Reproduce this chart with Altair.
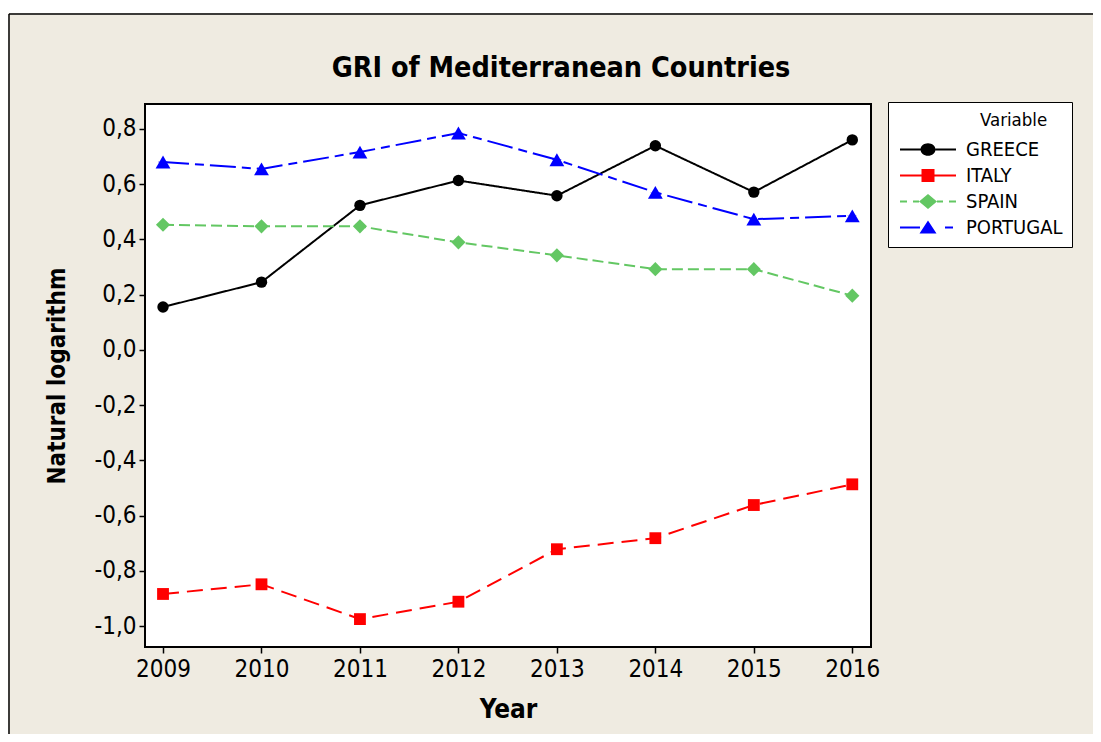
import altair as alt
import pandas as pd

# ---- data ----
years = [2009, 2010, 2011, 2012, 2013, 2014, 2015, 2016]
countries = ["GREECE", "ITALY", "SPAIN", "PORTUGAL"]
greece = [0.155, 0.245, 0.523, 0.613, 0.558, 0.739, 0.571, 0.760]
italy = [-0.884, -0.849, -0.975, -0.912, -0.722, -0.682, -0.562, -0.487]
spain = [0.453, 0.447, 0.447, 0.389, 0.342, 0.292, 0.292, 0.196]
portugal = [0.680, 0.655, 0.716, 0.785, 0.688, 0.570, 0.473, 0.485]
y_ticks = [-1.0, -0.8, -0.6, -0.4, -0.2, 0.0, 0.2, 0.4, 0.6, 0.8]

series = {"GREECE": greece, "ITALY": italy, "SPAIN": spain, "PORTUGAL": portugal}
rows = []
for c in countries:
    for yr, v in zip(years, series[c]):
        rows.append({"Year": yr, "Value": v, "Country": c})
df = pd.DataFrame(rows)

# ---- styles ----
FONT = "DejaVu Sans Condensed, DejaVu Sans"
colors = {"GREECE": "#000000", "ITALY": "#FF0000", "SPAIN": "#63C763", "PORTUGAL": "#0000FF"}
dashes = {"GREECE": [1, 0], "ITALY": [16, 8], "SPAIN": [11, 5], "PORTUGAL": [26, 6, 9, 6]}
shapes = {"GREECE": "circle", "ITALY": "square", "SPAIN": "diamond", "PORTUGAL": "triangle-up"}
sizes = {"GREECE": 130, "ITALY": 140, "SPAIN": 200, "PORTUGAL": 220}

# legend symbol paths (px, scaled to unit coords: symbolSize 196 -> 7 px per unit)
U = 7.0
def f(v):
    return f"{v / U:.4f}"
def seg(x0, x1, h=1.0):
    return f"M{f(x0)},{f(-h)}L{f(x1)},{f(-h)}L{f(x1)},{f(h)}L{f(x0)},{f(h)}Z"
def ellipse(rx, ry):
    return (f"M{f(-rx)},0A{f(rx)},{f(ry)} 0 1,1 {f(rx)},0"
            f"A{f(rx)},{f(ry)} 0 1,1 {f(-rx)},0Z")
def square(h):
    return f"M{f(-h)},{f(-h)}L{f(h)},{f(-h)}L{f(h)},{f(h)}L{f(-h)},{f(h)}Z"
def diamond(rx, ry):
    return f"M{f(-rx)},0L0,{f(-ry)}L{f(rx)},0L0,{f(ry)}Z"
def triangle(w, top, bot):
    return f"M0,{f(top)}L{f(w)},{f(bot)}L{f(-w)},{f(bot)}Z"

legend_paths = {
    "GREECE": seg(-28, -7.5) + seg(7.5, 28) + ellipse(7.5, 6.3),
    "ITALY": seg(-28, -6.5) + seg(6.5, 28) + square(6.5),
    "SPAIN": seg(-28, -21) + seg(-15, -9) + seg(9, 15) + seg(21, 28) + diamond(9, 7.5),
    "PORTUGAL": seg(-28, -8) + seg(17, 25) + triangle(8.5, -7, 6),
}

x_scale = alt.Scale(domain=[2008.817, 2016.19], nice=False, zero=False)
y_scale = alt.Scale(domain=[-1.076, 0.89], nice=False, zero=False)

x_enc = alt.X("Year:Q", scale=x_scale,
              axis=alt.Axis(values=years, format="d", title="Year", titlePadding=15,
                            titleFontSize=26, labelPadding=4))
y_enc = alt.Y("Value:Q", scale=y_scale,
              axis=alt.Axis(values=y_ticks, title="Natural logarithm", titlePadding=24,
                            titleFontSize=24, labelPadding=3,
                            labelExpr="replace(replace(format(datum.value, '.1f'), '.', ','), '\u2212', '-')"))

base = alt.Chart(df)

# legend carrier layer: tiny symbols hidden beneath the visible markers
legend_layer = base.mark_point(filled=True, opacity=1).encode(
    x=x_enc, y=y_enc,
    color=alt.Color("Country:N",
                    scale=alt.Scale(domain=countries, range=[colors[c] for c in countries]),
                    legend=alt.Legend(orient="none", legendX=743, legendY=-2,
                                      title="Variable", titleFontWeight="normal",
                                      titleFontSize=18.5, titleFont=FONT, titleColor="black",
                                      titleAnchor="middle", titleAlign="left", titlePadding=10,
                                      labelFontSize=20, labelFont=FONT, labelColor="black",
                                      symbolSize=196, symbolOpacity=1, symbolStrokeWidth=0,
                                      symbolOffset=21, labelOffset=28,
                                      strokeColor="black", fillColor="white", padding=9,
                                      rowPadding=6, cornerRadius=0)),
    shape=alt.Shape("Country:N",
                    scale=alt.Scale(domain=countries, range=[legend_paths[c] for c in countries])),
    size=alt.value(6),
)

layers = [legend_layer]
for c in countries:
    sub = base.transform_filter(alt.datum.Country == c)
    layers.append(sub.mark_line(color=colors[c], strokeWidth=2,
                                strokeDash=dashes[c]).encode(x=x_enc, y=y_enc))
for c in countries:
    sub = base.transform_filter(alt.datum.Country == c)
    layers.append(sub.mark_point(shape=shapes[c], filled=True, opacity=1,
                                 color=colors[c], size=sizes[c]).encode(x=x_enc, y=y_enc))

one = alt.Data(values=[{"k": 1}])
frame_top = alt.Chart(one).mark_rule(color="black", strokeWidth=1.5).encode(
    x=alt.value(-136), x2=alt.value(1000), y=alt.value(-90))
frame_left = alt.Chart(one).mark_rule(color="black", strokeWidth=1.5).encode(
    x=alt.value(-136), y=alt.value(-90), y2=alt.value(700))
white_strip = alt.Chart(one).mark_rect(color="white").encode(
    x=alt.value(-150), x2=alt.value(1000), y=alt.value(-100), y2=alt.value(-91))

chart = alt.layer(white_strip, frame_top, frame_left, *layers).properties(
    width=726, height=543,
    title=alt.TitleParams("GRI of Mediterranean Countries", font=FONT, fontSize=28.5,
                          fontWeight="bold", color="black", anchor="middle",
                          dx=53, dy=82),
    autosize=alt.AutoSizeParams(type="none"),
    padding={"left": 137, "top": 96, "right": 222, "bottom": 87},
    background="#EFEBE1",
).configure_view(
    stroke="black", strokeWidth=2, fill="white"
).configure_axis(
    grid=False, domain=False, ticks=True, tickColor="black", tickSize=6, tickWidth=1.5,
    labelFont=FONT, labelFontSize=24, labelColor="black",
    titleFont=FONT, titleFontWeight="bold", titleColor="black",
)

chart.save("out.html", embed_options={"renderer": "svg", "actions": False})
